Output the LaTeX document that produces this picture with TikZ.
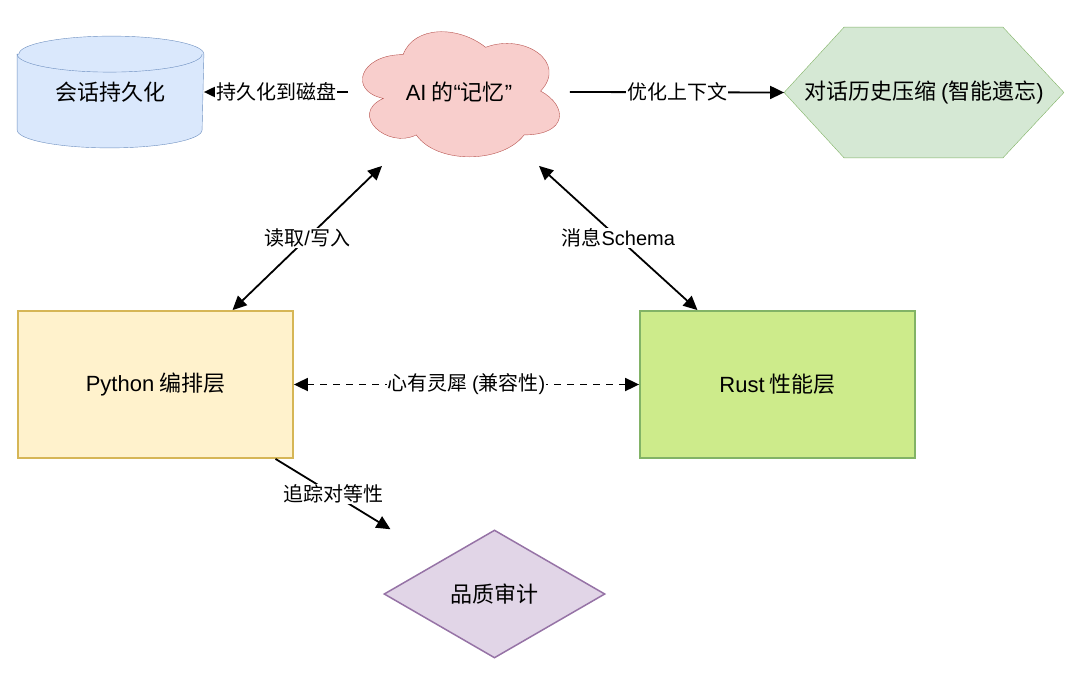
\documentclass[tikz,border=0pt]{standalone}
\usepackage{fontspec}
\setmainfont{Noto Sans CJK SC}
\newfontfamily\latinfont{Liberation Sans}
\newcommand{\en}[1]{{\latinfont #1}}
\usepackage{tikz}
\usetikzlibrary{shapes.geometric, arrows.meta, backgrounds}
\usepackage{xcolor}
\definecolor{diskfill}{HTML}{DAE8FC}
\definecolor{diskline}{HTML}{6C8EBF}
\definecolor{memfill}{HTML}{F8CECC}
\definecolor{memline}{HTML}{B85450}
\definecolor{ctxfill}{HTML}{D5E8D4}
\definecolor{ctxline}{HTML}{82B366}
\definecolor{pyfill}{HTML}{FFF2CC}
\definecolor{pyline}{HTML}{D6B656}
\definecolor{rustfill}{HTML}{CDEB8B}
\definecolor{auditfill}{HTML}{E1D5E7}
\definecolor{auditline}{HTML}{9673A6}

\begin{document}
\begin{tikzpicture}[
    x=1pt, y=-1pt,
    line width=1.8pt,
    >={Triangle[length=14pt,width=13pt]},
    every node/.style={font=\fontsize{22}{26}\selectfont},
    lbl/.style={fill=white, inner sep=1pt, font=\fontsize{20}{24}\selectfont},
    layer/.style={draw, rectangle, minimum width=275pt, minimum height=147pt}
]
    \useasboundingbox (0,0) rectangle (1080,678);

    % top row: disk, memory cloud, compression hexagon
    \node[minimum width=185pt, minimum height=110pt] (disk) at (110.5,92) {会话持久化};
    \node[minimum width=220pt, minimum height=146pt] (mem) at (459,92) {\en{AI} 的\en{“}记忆\en{”}};
    \node[minimum width=278pt, minimum height=129pt] (ctx) at (924,92.5) {对话历史压缩 \en{(}智能遗忘\en{)}};

    % middle row: the two layers
    \node[layer, draw=pyline, fill=pyfill] (py) at (155.5,384.5) {\en{Python} 编排层};
    \node[layer, draw=ctxline, fill=rustfill] (rust) at (777.5,384.5) {\en{Rust} 性能层};

    % bottom: audit
    \node[diamond, aspect=1.73, draw=auditline, fill=auditfill, line width=1.5pt,
          minimum width=221pt, minimum height=128pt] (audit) at (494.5,594) {品质审计};

    % outlines of the top row, behind their texts
    \begin{scope}[on background layer, line width=1.5pt]
        \path[draw=diskline, fill=diskfill]
            ([yshift=-18pt]disk.north west) -- ([yshift=18pt]disk.south west)
            arc[start angle=180, end angle=360, x radius=92.5pt, y radius=18pt]
            -- ([yshift=-18pt]disk.north east)
            arc[start angle=0, end angle=180, x radius=92.5pt, y radius=18pt] -- cycle;
        \draw[diskline] ([yshift=-18pt]disk.north west)
            arc[start angle=180, end angle=360, x radius=92.5pt, y radius=18pt];
        \begin{scope}[shift={(mem.north west)}, x=220pt, y=-146pt]
            \path[draw=memline, fill=memfill] (0.25,0.25)
                .. controls (0.05,0.25) and (0,0.5) .. (0.16,0.55)
                .. controls (0,0.66) and (0.18,0.9) .. (0.31,0.8)
                .. controls (0.4,1) and (0.7,1) .. (0.8,0.8)
                .. controls (1,0.8) and (1,0.6) .. (0.875,0.5)
                .. controls (1,0.3) and (0.8,0.1) .. (0.625,0.2)
                .. controls (0.5,0.05) and (0.3,0.05) .. (0.25,0.25) -- cycle;
        \end{scope}
        \path[draw=ctxline, fill=ctxfill] (ctx.west)
            -- ([xshift=60pt]ctx.north west) -- ([xshift=-61pt]ctx.north east)
            -- (ctx.east)
            -- ([xshift=-61pt]ctx.south east) -- ([xshift=60pt]ctx.south west) -- cycle;
    \end{scope}

    \draw[->] (mem.west) -- node[lbl] {持久化到磁盘} (disk.east);
    \draw[->] (mem.east) -- node[lbl] {优化上下文} (ctx.west);
    \draw[<->] ([xshift=77pt]py.north) -- node[lbl] {读取\en{/}写入} ([xshift=-77pt]mem.south);
    \draw[<->] ([xshift=80pt]mem.south) -- node[lbl] {消息\en{Schema}} ([xshift=-80pt]rust.north);
    \draw[<->, dash pattern=on 7pt off 6pt] (py.east) -- node[lbl] {心有灵犀 \en{(}兼容性\en{)}} (rust.west);
    \draw[->] ([xshift=120pt]py.south) -- node[lbl] {追踪对等性} ([xshift=-104pt]audit.north);
\end{tikzpicture}
\end{document}
